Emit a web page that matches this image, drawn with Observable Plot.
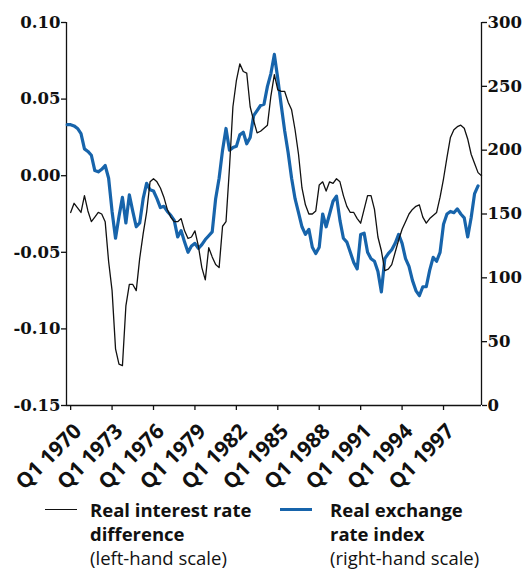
<!DOCTYPE html>
<html><head><meta charset="utf-8">
<script src="https://cdn.jsdelivr.net/npm/d3@7"></script>
<script src="https://cdn.jsdelivr.net/npm/@observablehq/plot@0.6"></script>
<style>
body{margin:0;background:#fff;width:527px;overflow:hidden;}
#legend{position:relative;height:74px;font-family:"Open Sans",sans-serif;color:#111;}
.item{position:absolute;top:3px;font-size:18.5px;line-height:24px;}
.item b{font-weight:700;}
.sw{position:absolute;height:0;}
</style></head><body>
<div id="chart"></div>
<div id="legend">
  <div class="sw" style="left:45px;width:32px;border-top:1.3px solid #111;top:14px;"></div>
  <div class="item" style="left:90px;"><b>Real interest rate<br>difference</b><br>(left-hand scale)</div>
  <div class="sw" style="left:280px;width:32px;border-top:3px solid #1764ab;top:13px;"></div>
  <div class="item" style="left:330px;"><b>Real exchange<br>rate index</b><br>(right-hand scale)</div>
</div>
<script>
// first observation: Q4 1969, quarterly to Q3 1999
const firstYear = 1969, firstQuarter = 4;
const tickLabels = ["Q1 1970","Q1 1973","Q1 1976","Q1 1979","Q1 1982","Q1 1985","Q1 1988","Q1 1991","Q1 1994","Q1 1997"];
const leftTicks = [0.10, 0.05, 0.00, -0.05, -0.10, -0.15];
const rightTicks = [0, 50, 100, 150, 200, 250, 300];

// Real interest rate difference (left-hand scale)
const interestDiff = [
  null,
  -0.024,-0.018,-0.021,-0.024,-0.013,-0.023,-0.030,-0.027,-0.024,-0.025,
  -0.030,-0.056,-0.075,-0.113,-0.123,-0.124,-0.085,-0.071,-0.071,-0.075,
  -0.054,-0.038,-0.024,-0.004,-0.002,-0.004,-0.008,-0.014,-0.022,-0.027,
  -0.030,-0.030,-0.028,-0.036,-0.041,-0.040,-0.036,-0.046,-0.060,-0.068,
  -0.047,-0.053,-0.058,-0.060,-0.033,-0.030,0.005,0.045,0.062,0.073,
  0.068,0.067,0.045,0.036,0.028,0.029,0.031,0.033,0.052,0.066,
  0.056,0.055,0.055,0.048,0.043,0.030,0.014,-0.008,-0.019,-0.025,
  -0.025,-0.023,-0.006,-0.004,-0.010,-0.004,-0.005,-0.002,-0.004,-0.013,
  -0.020,-0.024,-0.024,-0.028,-0.031,-0.022,-0.013,-0.013,-0.022,-0.040,
  -0.049,-0.062,-0.061,-0.058,-0.050,-0.042,-0.035,-0.030,-0.025,-0.022,
  -0.020,-0.019,-0.027,-0.031,-0.028,-0.026,-0.024,-0.014,-0.002,0.012,
  0.025,0.030,0.032,0.033,0.031,0.024,0.014,0.008,0.002,0.000
];

// Real exchange rate index (right-hand scale)
const exchangeIndex = [
  220,
  220,219,217,213,201,199,196,184,183,185,
  188,178,152,131,148,163,143,165,152,140,
  143,162,174,169,168,162,155,156,152,149,
  145,132,137,128,120,125,127,123,126,130,
  133,136,162,178,200,217,200,202,203,212,
  214,205,210,227,231,235,236,250,260,275,
  256,235,215,198,178,162,151,140,134,138,
  124,119,124,150,140,150,160,164,145,131,
  128,120,112,107,134,135,120,115,113,105,
  89,115,119,122,127,134,127,115,109,98,
  90,86,93,93,106,116,113,120,142,150,
  152,151,154,150,147,132,147,166,172
];

const quarters = interestDiff.map((_, i) => {
  const q0 = (firstQuarter - 1) + i;
  return "Q" + (q0 % 4 + 1) + " " + (firstYear + Math.floor(q0 / 4));
});

const L0 = -0.15, L1 = 0.10, R0 = 0, R1 = 300;
const toLeft = v => L0 + (v - R0) / (R1 - R0) * (L1 - L0);
const toRight = v => R0 + (v - L0) / (L1 - L0) * (R1 - R0);

const rows = quarters.map((q, i) => ({i, q, diff: interestDiff[i], fx: exchangeIndex[i]}));
const tickIdx = tickLabels.map(t => quarters.indexOf(t));
const xMin = -0.2, xMax = quarters.length - 1;

const serif = "'DejaVu Serif', serif";
const chart = Plot.plot({
  width: 527, height: 495,
  marginLeft: 66, marginRight: 46, marginTop: 22, marginBottom: 90,
  style: {background: "#fff", color: "#111"},
  x: {type: "linear", domain: [xMin, xMax]},
  y: {domain: [L0, L1]},
  marks: [
    Plot.ruleX([xMin], {stroke: "#111", strokeWidth: 1.3}),
    Plot.ruleX([xMax], {stroke: "#111", strokeWidth: 1.3}),
    Plot.ruleY([L0], {stroke: "#111", strokeWidth: 1.3}),
    Plot.axisY({anchor: "left", ticks: leftTicks, tickSize: 5, tickPadding: 1,
      tickFormat: d => d.toFixed(2), fontSize: 16.5, fontWeight: "bold", fontFamily: serif, label: null, strokeWidth: 1.3}),
    Plot.axisY({anchor: "right", ticks: rightTicks.map(toLeft), tickSize: 5, tickPadding: 1,
      tickFormat: d => String(Math.round(toRight(d))), fontSize: 16.5, fontWeight: "bold", fontFamily: serif, label: null, strokeWidth: 1.3}),
    Plot.axisX({ticks: tickIdx, tickFormat: () => "", tickSize: 5, label: null, strokeWidth: 1.3}),
    Plot.text(tickIdx, {x: d => d, y: () => L0, text: d => quarters[d],
      rotate: -45, textAnchor: "end", lineAnchor: "bottom", dx: 12, dy: 27,
      fontSize: 21, fontWeight: "bold", fontFamily: "'Open Sans', sans-serif", fill: "#111"}),
    Plot.lineY(rows, {x: "i", y: d => d.fx == null ? NaN : toLeft(d.fx), stroke: "#1764ab", strokeWidth: 3.2, strokeLinejoin: "round"}),
    Plot.lineY(rows, {x: "i", y: d => d.diff == null ? NaN : d.diff, stroke: "#111", strokeWidth: 1.3, strokeLinejoin: "round"})
  ]
});
document.getElementById("chart").appendChild(chart);
// express each quarter label's rotation as an explicit matrix
const c45 = Math.SQRT1_2;
chart.querySelectorAll('g[aria-label="text"] text').forEach(t => {
  const m = /translate\(\s*([-\d.e]+)[ ,]+([-\d.e]+)\s*\)/.exec(t.getAttribute("transform") || "");
  if (m) t.setAttribute("transform", `matrix(${c45},${-c45},${c45},${c45},${m[1]},${m[2]})`);
});
</script>
</body></html>
